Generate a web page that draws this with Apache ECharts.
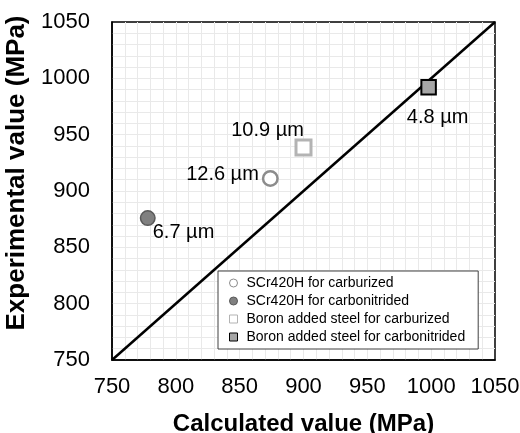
<!DOCTYPE html>
<html>
<head>
<meta charset="utf-8">
<script src="https://cdn.jsdelivr.net/npm/echarts@6/dist/echarts.min.js"></script>
<style>
  html, body { margin: 0; padding: 0; background: #fff; }
  #chart { width: 520px; height: 433px; }
</style>
</head>
<body>
<div id="chart"></div>
<script>
// data
var seriesNames = [
    'SCr420H for carburized',
    'SCr420H for carbonitrided',
    'Boron added steel for carburized',
    'Boron added steel for carbonitrided'
];
var calculated = [874, 778, 900, 998];     // MPa
var experimental = [911, 876, 938.5, 992]; // MPa
var sizeLabels = ['12.6 µm', '6.7 µm', '10.9 µm', '4.8 µm'];
var axisRange = [750, 1050];

var font = "'Liberation Sans', Arial, sans-serif";

var dom = document.getElementById('chart');
var myChart = echarts.init(dom, null, { renderer: 'canvas' });

// marker look per series
var markers = [
    { symbol: 'circle', size: 14.5, color: '#fff', border: '#8c8c8c', bw: 2.5, legendBw: 1 },
    { symbol: 'circle', size: 14.5, color: '#808080', border: '#595959', bw: 1.5, legendBw: 1 },
    { symbol: 'rect', size: 15, color: '#fff', border: '#b3b3b3', bw: 3, legendBw: 1 },
    { symbol: 'rect', size: 14.5, color: '#a6a6a6', border: '#000', bw: 2, legendBw: 1 }
];
// label placement per series
var labelPos = [
    { position: 'left', distance: 3, offset: [0, -4] },
    { position: 'right', distance: -3, offset: [0, 14] },
    { position: 'top', distance: 0, offset: [-36, 2] },
    { position: 'bottom', distance: 10, offset: [9, 2] }
];

var series = [{
    type: 'line',
    data: [[axisRange[0], axisRange[0]], [axisRange[1], axisRange[1]]],
    symbol: 'none',
    silent: true,
    lineStyle: { color: '#000', width: 2.5 },
    z: 1
}];

seriesNames.forEach(function (name, i) {
    var m = markers[i];
    series.push({
        name: name,
        type: 'scatter',
        symbol: m.symbol,
        symbolSize: m.size,
        data: [[calculated[i], experimental[i]]],
        itemStyle: { color: m.color, borderColor: m.border, borderWidth: m.bw, opacity: 1 },
        label: {
            show: true,
            position: labelPos[i].position,
            distance: labelPos[i].distance,
            offset: labelPos[i].offset,
            formatter: sizeLabels[i],
            color: '#000',
            fontSize: 20,
            fontFamily: font
        },
        z: 3
    });
});

var gridColor = '#e9e9e9';
var plainNum = function (v) { return String(v); };

option = {
    animation: false,
    textStyle: { fontFamily: font },
    grid: {
        left: 112, right: 25, top: 22, bottom: 73,
        outerBoundsMode: 'none',
        containLabel: false,
        show: true,
        borderColor: '#000',
        borderWidth: 1.5,
        backgroundColor: '#fff'
    },
    legend: {
        orient: 'vertical',
        left: 218,
        top: 271,
        padding: [5, 13, 5, 11],
        itemWidth: 8,
        itemHeight: 8,
        itemGap: 4,
        backgroundColor: '#fff',
        borderColor: '#404040',
        borderWidth: 1,
        textStyle: { fontSize: 14, color: '#000', fontFamily: font, padding: [0, 0, 0, 4] },
        data: seriesNames.map(function (n, i) {
            return { name: n, itemStyle: { borderWidth: markers[i].legendBw } };
        })
    },
    xAxis: {
        type: 'value',
        min: axisRange[0],
        max: axisRange[1],
        interval: 50,
        name: 'Calculated value (MPa)',
        nameLocation: 'middle',
        nameGap: 52,
        nameTextStyle: { fontSize: 24, fontWeight: 'bold', color: '#000', fontFamily: font },
        axisLine: { show: true, lineStyle: { color: '#000', width: 1.5 } },
        axisTick: { show: false },
        axisLabel: { fontSize: 22, color: '#000', margin: 16, fontFamily: font, formatter: plainNum },
        splitLine: { show: true, showMinLine: false, showMaxLine: false, lineStyle: { color: gridColor, width: 1 } },
        minorTick: { show: false, splitNumber: 5 },
        minorSplitLine: { show: true, lineStyle: { color: gridColor, width: 1 } }
    },
    yAxis: {
        type: 'value',
        min: axisRange[0],
        max: axisRange[1],
        interval: 50,
        name: 'Experimental value (MPa)',
        nameLocation: 'middle',
        nameGap: 75,
        nameTextStyle: { fontSize: 26, fontWeight: 'bold', color: '#000', fontFamily: font, padding: [0, 0, 0, 36] },
        axisLine: { show: true, lineStyle: { color: '#000', width: 1.5 } },
        axisTick: { show: false },
        axisLabel: { fontSize: 22, color: '#000', margin: 22, fontFamily: font, formatter: plainNum },
        splitLine: { show: true, showMinLine: false, showMaxLine: false, lineStyle: { color: gridColor, width: 1 } },
        minorTick: { show: false, splitNumber: 5 },
        minorSplitLine: { show: true, lineStyle: { color: gridColor, width: 1 } }
    },
    series: series
};

if (option && typeof option === 'object') {
    myChart.setOption(option, true);
}
</script>
</body>
</html>
